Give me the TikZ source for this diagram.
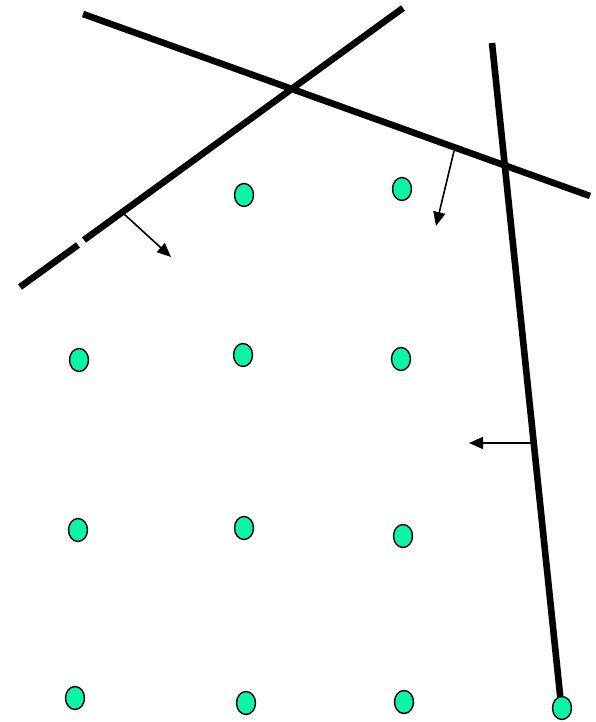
\documentclass[tikz,border=0pt]{standalone}
\usetikzlibrary{arrows.meta,shapes.geometric}
\definecolor{mint}{RGB}{10,245,168}
\begin{document}
\begin{tikzpicture}[x=1pt,y=-1pt,
  dot/.style={draw=black,line width=1.4pt,fill=mint,ellipse,minimum width=19pt,minimum height=23pt,inner sep=0pt},
  bigline/.style={line width=6.6pt,line cap=butt},
  ptr/.style={line width=1.6pt,-{Triangle[length=14pt,width=12pt]}}]
\useasboundingbox (0,0) rectangle (596,722);
% lines
\coordinate (l1a) at (83,14); \coordinate (l1b) at (590,196);
\coordinate (l2a) at (20,287); \coordinate (l2g1) at (78,245);
\coordinate (l2g2) at (84,240); \coordinate (l2b) at (403,8);
\coordinate (l3a) at (492,43); \coordinate (l3b) at (561,704);
\draw[bigline] (l1a) -- (l1b);
\draw[bigline] (l2a) -- (l2g1);
\draw[bigline] (l2g2) -- (l2b);
\draw[bigline] (l3a) -- (l3b);
% arrows
\coordinate (a1s) at (124,214); \coordinate (a1e) at (171,257);
\coordinate (a2s) at (454,151); \coordinate (a2e) at (436,226);
\coordinate (a3s) at (531,443); \coordinate (a3e) at (469,443);
\draw[ptr] (a1s) -- (a1e);
\draw[ptr] (a2s) -- (a2e);
\draw[ptr] (a3s) -- (a3e);
% dots
\node[dot] (d12) at (244,195) {};
\node[dot] (d13) at (402,189) {};
\node[dot] (d21) at (79,360) {};
\node[dot] (d22) at (243,355) {};
\node[dot] (d23) at (401,359) {};
\node[dot] (d31) at (78,530) {};
\node[dot] (d32) at (244,528) {};
\node[dot] (d33) at (403,536) {};
\node[dot] (d41) at (75,698) {};
\node[dot] (d42) at (246,703) {};
\node[dot] (d43) at (404,702) {};
\node[dot] (d44) at (562,708) {};
\end{tikzpicture}
\end{document}
